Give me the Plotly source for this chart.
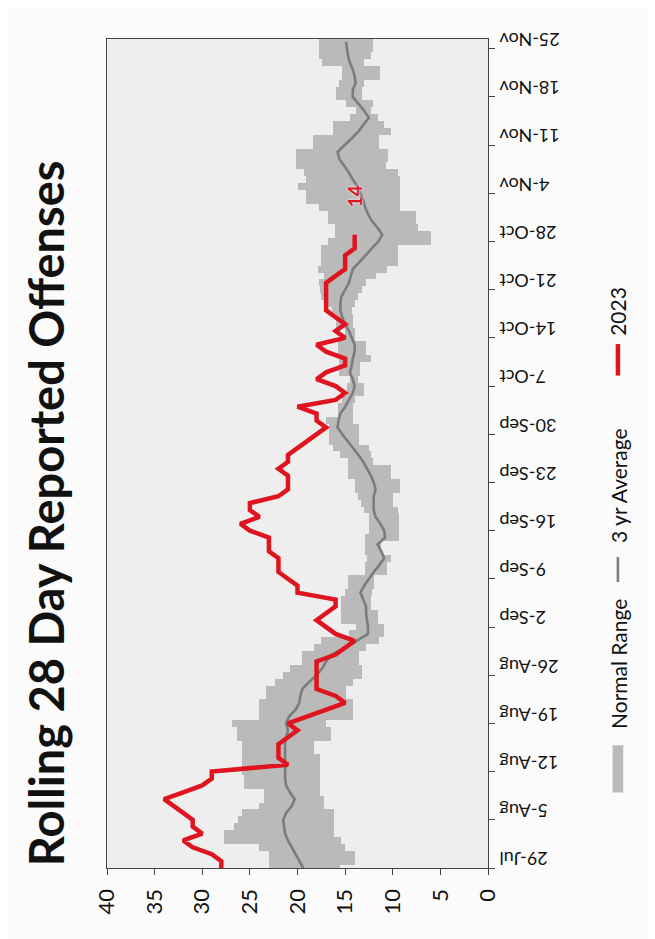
import plotly.graph_objects as go
import pandas as pd

start_date = "2023-07-29"
n_days = 121
days = pd.date_range(start_date, periods=n_days, freq="D")

normal_high = [
    23.0, 23.0, 23.0, 24.0, 27.7, 27.7, 26.7, 26.2, 25.8, 24.0, 23.5, 23.5, 25.6, 25.6, 25.8, 25.8, 25.8, 25.8, 25.8, 26.3, 26.3,
    26.9, 24.0, 24.0, 24.0, 23.3, 23.3, 22.4, 21.5, 20.8, 19.5, 19.5, 18.3, 17.5, 14.6, 13.9, 15.4, 15.4, 15.4, 15.4, 15.0,
    14.7, 14.7, 12.9, 12.9, 12.7, 12.9, 12.9, 12.9, 12.5, 12.5, 12.5, 13.0, 13.3, 13.6, 14.0, 14.0, 14.7, 14.7, 14.7, 15.5,
    16.3, 16.7, 16.7, 16.7, 17.0, 15.8, 15.8, 15.3, 14.8, 14.8, 14.5, 15.6, 15.6, 15.6, 15.8, 15.8, 15.0, 15.0, 16.0, 16.0,
    16.4, 17.0, 17.5, 17.6, 17.7, 17.2, 17.9, 17.5, 17.5, 17.5, 16.8, 16.1, 16.1, 16.8, 16.8, 17.7, 19.1, 19.1, 20.0, 19.1,
    19.3, 20.2, 20.2, 20.2, 18.4, 18.4, 16.3, 16.3, 14.5, 13.9, 14.9, 16.0, 16.0, 15.6, 15.3, 15.3, 17.4, 17.7, 17.7, 17.7,
]
normal_low = [
    15.5, 14.0, 14.0, 15.0, 15.4, 16.2, 16.2, 16.2, 16.2, 17.2, 17.2, 17.6, 17.6, 17.6, 17.6, 17.6, 17.6, 18.3, 18.3, 16.5, 16.5,
    17.0, 14.2, 14.2, 14.2, 14.9, 14.9, 14.2, 13.2, 13.2, 13.5, 13.5, 12.8, 11.4, 10.9, 10.9, 11.6, 11.6, 12.3, 12.3, 12.2,
    12.0, 12.0, 10.6, 10.6, 10.2, 11.2, 11.2, 9.3, 9.3, 9.3, 9.3, 9.5, 10.0, 10.0, 9.2, 9.2, 10.2, 10.2, 12.1, 12.3,
    12.5, 13.5, 13.5, 13.5, 14.2, 14.2, 14.2, 14.0, 13.0, 13.0, 13.7, 13.4, 13.4, 12.3, 12.8, 12.8, 14.0, 14.0, 14.2, 14.2,
    14.3, 14.0, 13.7, 13.2, 12.8, 11.8, 10.6, 9.4, 9.4, 9.4, 6.0, 6.0, 7.4, 7.6, 7.6, 9.2, 9.2, 9.2, 9.2, 9.2,
    9.5, 10.7, 10.5, 10.5, 11.4, 11.4, 10.2, 10.9, 11.5, 12.3, 12.1, 13.2, 13.2, 13.0, 11.3, 11.3, 13.0, 12.3, 12.1, 12.1,
]
avg_3yr = [
    19.4, 19.8, 20.2, 20.6, 21.0, 21.3, 21.4, 21.5, 21.2, 20.6, 20.3, 20.8, 21.2, 21.3, 21.3, 21.3, 21.3, 21.3, 21.3, 21.2, 21.0,
    21.2, 20.9, 20.2, 19.8, 19.7, 19.5, 18.8, 18.0, 17.4, 17.0, 16.4, 15.0, 13.8, 12.6, 12.6, 12.7, 12.8, 12.8, 13.1, 13.4,
    13.0, 12.5, 12.0, 11.4, 10.9, 11.2, 11.6, 10.8, 10.9, 11.3, 11.8, 12.0, 12.0, 12.0, 11.8, 12.0, 12.3, 12.7, 13.1, 13.6,
    14.2, 14.7, 15.3, 15.8, 15.7, 15.5, 15.0, 14.6, 14.2, 14.0, 14.2, 14.5, 14.3, 14.2, 14.0, 14.0, 14.3, 14.6, 15.0, 15.3,
    15.5, 15.5, 15.4, 15.0, 14.6, 14.4, 14.2, 13.5, 12.9, 12.2, 11.5, 11.1, 11.6, 12.2, 12.6, 12.9, 13.1, 13.4, 13.7, 14.2,
    14.6, 15.1, 15.6, 15.8, 15.0, 14.3, 13.6, 13.0, 12.5, 13.0, 13.6, 14.2, 14.2, 13.9, 14.0, 14.2, 14.5, 14.7, 14.8, 14.9,
]
offenses_2023 = [
    28, 28, 29, 31, 32, 30, 31, 31, 32, 33, 34, 32, 30, 29, 29, 21, 22, 22, 22, 21, 20,
    21, 19, 17, 15, 16, 18, 18, 18, 18, 18, 16, 15, 14, 16, 17, 18, 17, 16, 16, 20,
    20, 21, 22, 22, 22, 23, 23, 23, 25, 26, 24, 25, 25, 22, 21, 21, 21, 22, 21, 21,
    20, 19, 18, 17, 18, 18, 20, 16, 15, 16, 18, 17, 15, 15, 17, 18, 15, 16, 15, 16,
    17, 17, 17, 17, 17, 16, 15, 15, 15, 14, 14, 14,
]
value_ticks = [0, 5, 10, 15, 20, 25, 30, 35, 40]
title_text = "Rolling 28 Day Reported Offenses"
legend_labels = ["Normal Range", "3 yr Average", "2023"]

RED = "#e0141f"
BAND = "#bababa"
AVG = "#7c7c7c"
FONT = "Lato"

fig = go.Figure()
fig.add_trace(go.Bar(
    y=days, x=[h - l for h, l in zip(normal_high, normal_low)], base=normal_low,
    orientation="h", width=86400000, marker=dict(color=BAND, line=dict(width=0)),
    name=legend_labels[0], showlegend=False,
))
fig.add_trace(go.Scatter(
    y=days, x=avg_3yr, mode="lines", line=dict(color=AVG, width=2.6),
    name=legend_labels[1], showlegend=False,
))
days_2023 = days[:len(offenses_2023)]
fig.add_trace(go.Scatter(
    y=days_2023, x=offenses_2023, mode="lines", line=dict(color=RED, width=4.5),
    name=legend_labels[2], showlegend=False,
))

# end label
fig.add_annotation(
    x=offenses_2023[-1], y=days_2023[-1], xref="x", yref="y",
    text="<b>%d</b>" % offenses_2023[-1], showarrow=False, textangle=-90,
    xanchor="center", yanchor="middle", yshift=38,
    font=dict(family=FONT, size=19, color=RED, shadow="0px 0px 3px white"),
)

# title
fig.add_annotation(
    x=-0.16, y=0.428, xref="paper", yref="paper", text="<b>%s</b>" % title_text,
    showarrow=False, textangle=-90, xanchor="center", yanchor="middle",
    font=dict(family=FONT, size=47, color="#111111"),
)

# custom rotated legend
lx = 1.341
fig.add_shape(type="rect", xref="paper", yref="paper", x0=1.327, x1=1.355, y0=0.091, y1=0.148,
              fillcolor=BAND, line=dict(width=0))
fig.add_annotation(x=lx, y=0.246, xref="paper", yref="paper", text=legend_labels[0], showarrow=False,
                   textangle=-90, xanchor="center", yanchor="middle",
                   font=dict(family=FONT, size=21, color="#111"))
fig.add_shape(type="line", xref="paper", yref="paper", x0=lx, x1=lx, y0=0.345, y1=0.375,
              line=dict(color=AVG, width=2.6))
fig.add_annotation(x=lx, y=0.462, xref="paper", yref="paper", text=legend_labels[1], showarrow=False,
                   textangle=-90, xanchor="center", yanchor="middle",
                   font=dict(family=FONT, size=21, color="#111"))
fig.add_shape(type="line", xref="paper", yref="paper", x0=lx, x1=lx, y0=0.594, y1=0.632,
              line=dict(color=RED, width=4.5))
fig.add_annotation(x=lx, y=0.672, xref="paper", yref="paper", text=legend_labels[2], showarrow=False,
                   textangle=-90, xanchor="center", yanchor="middle",
                   font=dict(family=FONT, size=21, color="#111"))

fig.update_layout(
    width=655, height=939,
    margin=dict(l=99, r=175, t=31, b=79),
    paper_bgcolor="#fbfbfb", plot_bgcolor="#eeeeee",
    bargap=0, showlegend=False,
    font=dict(family=FONT, color="#111"),
)
fig.update_xaxes(
    range=[40, 0], tickvals=value_ticks, tickangle=-90,
    tickfont=dict(family=FONT, size=22, color="#111"),
    showgrid=False, zeroline=False, showline=True, linecolor="#444", linewidth=1.2,
    mirror=True, ticks="outside", ticklen=6, tickcolor="#444", ticklabelstandoff=5,
)
fig.update_yaxes(
    type="date", side="right",
    range=[days[0], days[-1] + pd.Timedelta(hours=10)],
    tick0=start_date, dtick=7 * 86400000, tickformat="%-d-%b", tickangle=180,
    ticklabelposition="inside", ticklabelstandoff=-11, ticklabeloverflow="allow",
    ticklabelshift=-4,
    tickfont=dict(family=FONT, size=18, color="#111"),
    showgrid=False, zeroline=False, showline=True, linecolor="#444", linewidth=1.2,
    mirror=True, ticks="outside", ticklen=6, tickcolor="#444",
)

fig.write_html("out.html")
